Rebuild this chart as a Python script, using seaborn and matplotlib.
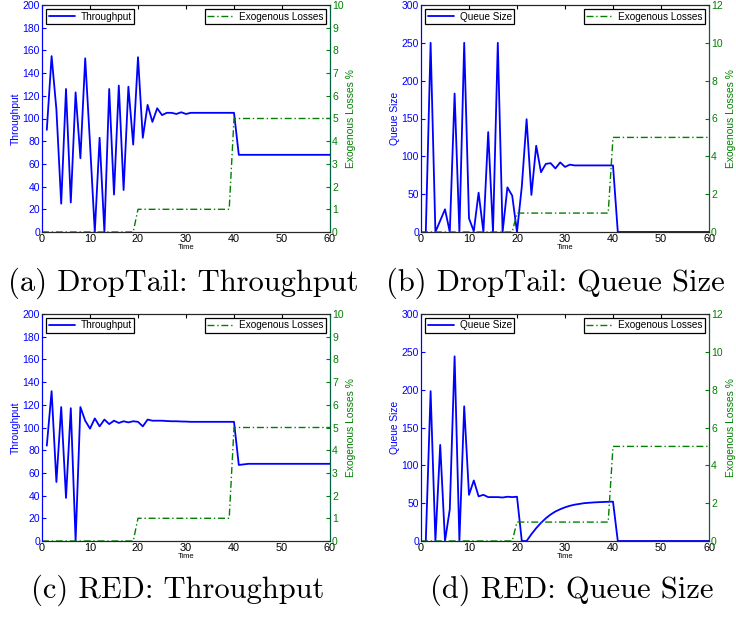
import matplotlib
matplotlib.use("Agg")
import matplotlib.pyplot as plt
import seaborn as sns
import numpy as np

# ---- data ----
time = list(range(1, 61))

tp_droptail = [90, 155, 108, 25, 126, 26, 123, 65, 153, 78,
               0, 83, 0, 126, 33, 129, 37, 128, 77, 154,
               83, 112, 97, 109, 103, 105, 105, 104, 105.5, 104,
               105, 105, 105, 105, 105, 105, 105, 105, 105, 105] + [68] * 20

q_droptail = [0, 250, 0, 15, 30, 0, 183, 0, 250, 18,
              1, 52, 0, 132, 0, 250, 0, 59, 48, 0,
              60, 149, 49, 114, 79, 90, 91, 84, 92, 86,
              89, 88, 88, 88, 88, 88, 88, 88, 88, 88] + [0] * 20

tp_red = [84, 132, 52, 118, 38, 117, 0, 118, 106, 99,
          108, 101, 107, 103, 106, 104, 105.5, 104.5, 105.5, 105,
          101, 107, 106, 106, 106, 105.7, 105.5, 105.5, 105.3, 105.2,
          105, 105, 105, 105, 105, 105, 105, 105, 105, 105,
          67, 67.5] + [68] * 18

q_red = [0, 198, 0, 127, 0, 42, 244, 0, 178, 61,
         80, 59, 61, 58, 58, 58, 57.5, 58.5, 58, 58.5,
         0, 0, 9, 17, 24, 30, 35, 39, 42, 44.5,
         46.5, 48, 49, 50, 50.5, 51, 51.3, 51.6, 51.8, 52] + [0] * 20

losses = [0] * 19 + [1] * 20 + [5] * 21

captions = ["(a) DropTail: Throughput", "(b) DropTail: Queue Size",
            "(c) RED: Throughput", "(d) RED: Queue Size"]

sns.set_style("white")
plt.rcParams['font.family'] = ['Liberation Sans', 'DejaVu Sans']
plt.rcParams['text.color'] = 'black'
plt.rcParams['axes.labelcolor'] = 'black'
plt.rcParams['xtick.color'] = 'black'
plt.rcParams['ytick.color'] = 'black'

W, H = 736, 617
fig = plt.figure(figsize=(W / 100, H / 100), dpi=100)

BLUE = '#0000ff'
GREEN = '#008000'


def panel(rect, y, ylabel, ymax, ystep, rmax, rstep, caption, cap_xy):
    ax = fig.add_axes(rect)
    sns.lineplot(x=time, y=y, ax=ax, color=BLUE, lw=1.3, label=ylabel)
    ax.set_xlim(0, 60)
    ax.set_ylim(0, ymax)
    ax.set_xticks(range(0, 61, 10))
    ax.set_yticks(np.arange(0, ymax + 1, ystep))
    ax.set_xlabel("Time", fontsize=5.5, labelpad=0, color='black')
    ax.set_ylabel(ylabel, color=BLUE, fontsize=7.4, labelpad=1)
    ax.tick_params(axis='x', direction='in', length=3, labelsize=7.8,
                   top=True, pad=1.5, colors='black')
    ax.tick_params(axis='y', direction='in', length=3, labelsize=7.5,
                   colors=BLUE, pad=1.5)
    for s in ax.spines.values():
        s.set_color('black')
        s.set_linewidth(0.8)
    ax.spines['left'].set_color(BLUE)

    ax2 = ax.twinx()
    sns.lineplot(x=[0] + time, y=[0] + losses, ax=ax2, color=GREEN, lw=1.0,
                 linestyle=(0, (5, 2, 1, 2)), label="Exogenous Losses")
    ax2.set_ylim(0, rmax)
    ax2.set_yticks(np.arange(0, rmax + 1, rstep))
    ax2.set_ylabel("Exogenous Losses %", color=GREEN, fontsize=7.4, labelpad=2)
    ax2.tick_params(axis='y', direction='in', length=3, labelsize=7.5,
                    colors=GREEN, pad=1.5)
    ax2.spines['right'].set_color('#006040')
    ax2.spines['right'].set_linewidth(0.8)
    ax2.spines['left'].set_color(BLUE)

    leg_kw = dict(fontsize=7.2, frameon=True, fancybox=False, borderpad=0.25,
                  handlelength=2.6, handletextpad=0.6, borderaxespad=0.4,
                  labelcolor='black')
    l1 = ax.legend(loc='upper left', **leg_kw)
    l2 = ax2.legend(loc='upper right', **leg_kw)
    for lg in (l1, l2):
        lg.get_frame().set_edgecolor('black')
        lg.get_frame().set_linewidth(0.9)
        lg.get_frame().set_alpha(1)

    fig.text(cap_xy[0] / W, 1 - cap_xy[1] / H, caption, family='cmr10',
             fontsize=22, ha='center', va='center', color='black')


aw, ah = 288 / W, 227 / H
panel([42 / W, 1 - 232 / H, aw, ah], tp_droptail, "Throughput", 200, 20, 10, 1,
      captions[0], (183, 283))
panel([421 / W, 1 - 232 / H, aw, ah], q_droptail, "Queue Size", 300, 50, 12, 2,
      captions[1], (555, 283))
panel([42 / W, 1 - 541 / H, aw, ah], tp_red, "Throughput", 200, 20, 10, 1,
      captions[2], (178, 590))
panel([421 / W, 1 - 541 / H, aw, ah], q_red, "Queue Size", 300, 50, 12, 2,
      captions[3], (572, 590))

fig.savefig("out.png", dpi=100)
